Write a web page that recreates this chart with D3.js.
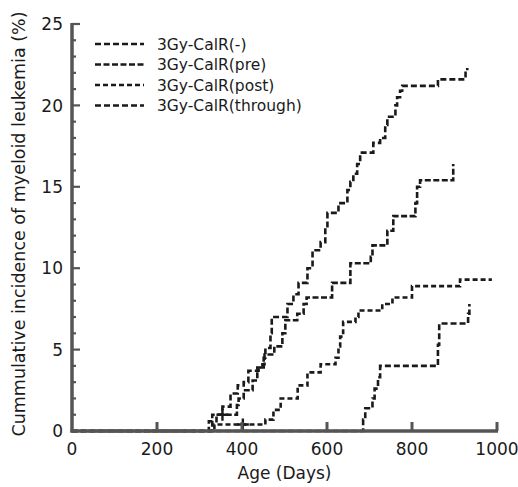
<!DOCTYPE html>
<html>
<head>
<meta charset="utf-8">
<script src="https://cdn.jsdelivr.net/npm/d3@7"></script>
<style>
  body { margin: 0; background: #fff; }
  svg { display: block; font-family: "DejaVu Sans", sans-serif; }
</style>
</head>
<body>
<svg width="518" height="487"></svg>
<script>
// 各群組的累積發生率（步階資料，讀自原圖）
const seriesNames = ["3Gy-CalR(-)", "3Gy-CalR(pre)", "3Gy-CalR(post)", "3Gy-CalR(through)"];

const noneDays = [0, 322, 340, 354, 373, 390, 404, 415, 439, 451, 455, 467, 470, 507, 521, 533, 554, 566, 585, 596, 601, 627, 648, 655, 662, 671, 678, 709, 725, 737, 742, 761, 765, 772, 777, 861, 926, 930];
const noneVals = [0, 0.6, 1.0, 1.5, 2.3, 2.8, 3.0, 3.7, 3.9, 4.5, 5.1, 6.0, 7.0, 7.8, 8.4, 9.1, 10.0, 11.1, 11.6, 12.5, 13.4, 14.0, 14.8, 15.3, 15.8, 16.4, 17.1, 17.7, 18.0, 18.8, 19.3, 20.0, 20.5, 20.9, 21.2, 21.6, 22.0, 22.3];

const preDays = [0, 330, 388, 392, 404, 425, 436, 448, 453, 476, 495, 502, 530, 545, 552, 612, 655, 703, 707, 742, 756, 808, 812, 819, 897];
const preVals = [0, 1.0, 1.6, 2.0, 2.5, 3.1, 3.9, 4.1, 4.7, 5.2, 6.0, 6.8, 7.2, 7.8, 8.2, 9.1, 10.3, 10.7, 11.4, 12.3, 13.2, 14.0, 15.0, 15.4, 16.4];

const postDays = [0, 335, 455, 474, 491, 531, 554, 585, 620, 627, 631, 638, 667, 674, 730, 754, 800, 913, 988];
const postVals = [0, 0.4, 0.7, 1.3, 2.0, 2.8, 3.6, 4.1, 4.5, 5.2, 5.8, 6.7, 7.0, 7.4, 7.8, 8.2, 8.9, 9.3, 9.3];

const throughDays = [0, 685, 690, 707, 712, 720, 725, 861, 864, 932, 935];
const throughVals = [0, 0.7, 1.4, 2.0, 2.6, 3.3, 4.0, 5.3, 6.6, 7.2, 7.8];

// 截尾記號 (+)
const censorDays = [354, 402];
const censorVals = [1.0, 0.4];

const xTicks = [0, 200, 400, 600, 800, 1000];
const yTicks = [0, 5, 10, 15, 20, 25];

var svg = d3.select("svg");

var x = d3.scaleLinear().domain([0, 1000]).range([72, 497]);
var y = d3.scaleLinear().domain([0, 25]).range([431, 24]);

const ink = "#1a1a1a";
const dashes = ["6,3", "6,2.5", "5,3", "6,3"];

var line = d3
  .line()
  .x((d) => x(d[0]))
  .y((d) => y(d[1]))
  .curve(d3.curveStepAfter);

const series = [
  d3.zip(noneDays, noneVals),
  d3.zip(preDays, preVals),
  d3.zip(postDays, postVals),
  d3.zip(throughDays, throughVals),
];

// 曲線
svg
  .append("g")
  .selectAll("path")
  .data(series)
  .enter()
  .append("path")
  .attr("d", line)
  .attr("fill", "none")
  .attr("stroke", ink)
  .attr("stroke-width", 2.6)
  .attr("stroke-dasharray", (d, i) => dashes[i]);

// + 記號
svg
  .append("g")
  .selectAll("path")
  .data(d3.zip(censorDays, censorVals))
  .enter()
  .append("path")
  .attr("d", (d) => {
    const cx = x(d[0]), cy = y(d[1]);
    return `M${cx - 6},${cy}H${cx + 6}M${cx},${cy - 6}V${cy + 6}`;
  })
  .attr("stroke", ink)
  .attr("stroke-width", 2.4);

// 座標軸
const axisColor = "#555";
var axes = svg.append("g").attr("stroke", axisColor);

axes
  .append("line")
  .attr("x1", x(0)).attr("x2", x(0))
  .attr("y1", y(25) - 1).attr("y2", y(0) + 1.5)
  .attr("stroke-width", 3.5);
axes
  .append("line")
  .attr("x1", x(0) - 1.5).attr("x2", x(1000) + 1)
  .attr("y1", y(0)).attr("y2", y(0))
  .attr("stroke-width", 3.5);

// y 軸小刻度（每 1%）
axes
  .selectAll(".ytick")
  .data(d3.range(1, 26))
  .enter()
  .append("line")
  .attr("x1", x(0))
  .attr("x2", (d) => x(0) + (d % 5 === 0 ? 8 : 4))
  .attr("y1", (d) => y(d))
  .attr("y2", (d) => y(d))
  .attr("stroke-width", 2.2);

// x 軸刻度
axes
  .selectAll(".xtick")
  .data(xTicks.slice(1))
  .enter()
  .append("line")
  .attr("x1", (d) => x(d))
  .attr("x2", (d) => x(d))
  .attr("y1", y(0))
  .attr("y2", y(0) - 9)
  .attr("stroke-width", 3);

svg
  .append("g")
  .selectAll("text")
  .data(yTicks)
  .enter()
  .append("text")
  .attr("x", x(0) - 9)
  .attr("y", (d) => y(d))
  .attr("dy", "0.36em")
  .attr("text-anchor", "end")
  .attr("font-size", 17)
  .attr("fill", ink)
  .text((d) => d);

svg
  .append("g")
  .selectAll("text")
  .data(xTicks)
  .enter()
  .append("text")
  .attr("x", (d) => x(d))
  .attr("y", 455)
  .attr("text-anchor", "middle")
  .attr("font-size", 17)
  .attr("fill", ink)
  .text((d) => d);

svg
  .append("text")
  .attr("x", x(500))
  .attr("y", 479)
  .attr("text-anchor", "middle")
  .attr("font-size", 17)
  .attr("fill", ink)
  .text("Age (Days)");

svg
  .append("text")
  .attr("transform", "translate(25,224) rotate(-90)")
  .attr("text-anchor", "middle")
  .attr("font-size", 17.5)
  .attr("fill", ink)
  .text("Cummulative incidence of myeloid leukemia (%)");

// 圖例
var legend = svg
  .append("g")
  .selectAll("g")
  .data(seriesNames)
  .enter()
  .append("g")
  .attr("transform", (d, i) => `translate(0,${44 + i * 20.5})`);

legend
  .append("line")
  .attr("x1", 95)
  .attr("x2", 144)
  .attr("stroke", ink)
  .attr("stroke-width", 2.6)
  .attr("stroke-dasharray", (d, i) => dashes[i]);

legend
  .append("text")
  .attr("x", 157)
  .attr("dy", "0.36em")
  .attr("font-size", 15.5)
  .attr("fill", ink)
  .text((d) => d);
</script>
</body>
</html>
